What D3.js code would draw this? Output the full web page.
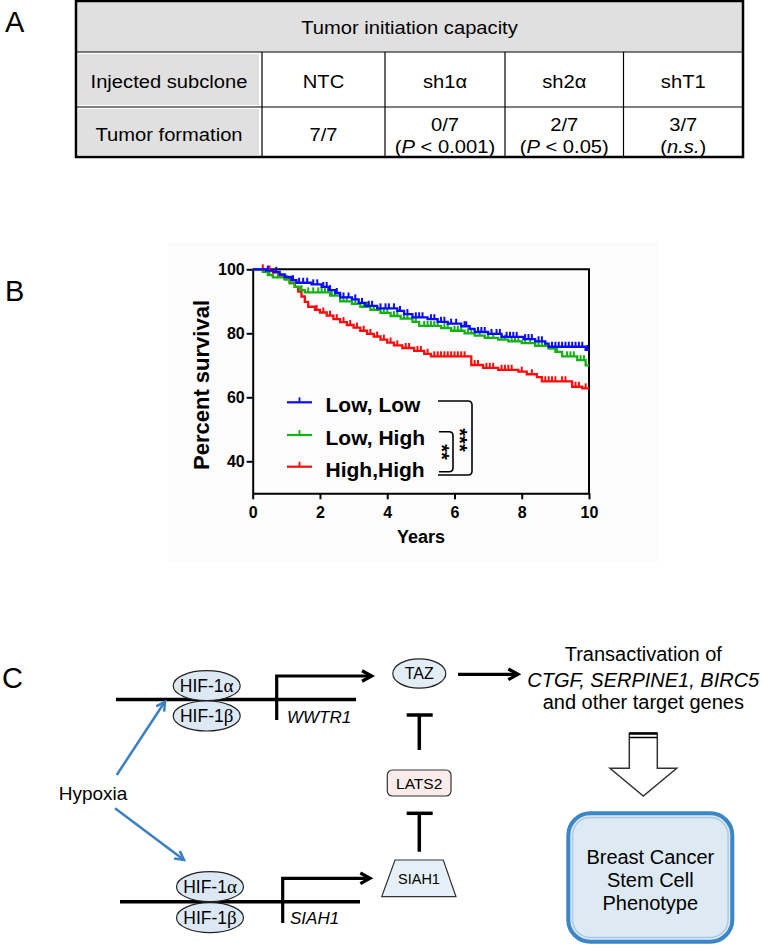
<!DOCTYPE html>
<html><head><meta charset="utf-8">
<script src="https://cdn.jsdelivr.net/npm/d3@7"></script>
<style>body{margin:0;background:#fff}svg{display:block}text{font-family:"Liberation Sans",Arial,sans-serif;fill:#000}</style>
</head><body>
<svg id="fig" width="763" height="951"></svg>
<script>
// ---------- Panel A data ----------
const tableTitle = "Tumor initiation capacity";
const rowLabels = ["Injected subclone", "Tumor formation"];
const subclones = ["NTC", "sh1α", "sh2α", "shT1"];
const formationCounts = ["7/7", "0/7", "2/7", "3/7"];
const formationStats = [null, ["(", "P", " < 0.001)"], ["(", "P", " < 0.05)"], ["(", "n.s.", ")"]];

// ---------- Panel B data ----------
const seriesNames = ["Low, Low", "Low, High", "High,High"];
const seriesColors = ["#0a0aff", "#14b014", "#ff0a0a"];
const yTicks = [40, 60, 80, 100];
const xTicks = [0, 2, 4, 6, 8, 10];
const stepsLowLow = [[0,100],[0.4,99.6],[0.62,99.2],[0.8,98.4],[0.95,97.6],[1.15,96.6],[1.3,95.8],[1.75,95.3],[2.05,94.5],[2.25,93.5],[2.45,92.6],[2.6,91.2],[2.95,90.6],[3.15,89.5],[3.35,88.6],[3.7,87.8],[4.3,87.0],[4.5,86.0],[4.75,85.0],[5.2,84.4],[5.5,83.6],[5.8,83.0],[6.2,82.2],[6.45,81.4],[6.6,80.4],[7.0,79.8],[7.4,78.9],[8.05,78.2],[8.4,77.5],[8.7,76.8],[8.8,75.8],[9.9,74.8],[10,74.8]];
const stepsLowHigh = [[0,100],[0.3,99.2],[0.45,98.2],[0.6,97.5],[0.95,96.8],[1.1,95.6],[1.25,94.5],[1.4,93.5],[1.55,92.8],[2.3,91.8],[2.6,90.0],[2.95,89.2],[3.2,88.3],[3.5,87.3],[3.8,86.4],[4.1,85.4],[4.4,84.6],[4.75,83.6],[4.95,82.3],[5.6,81.6],[5.9,80.8],[6.3,80.0],[6.6,79.3],[6.9,78.6],[7.3,78.0],[7.6,77.5],[8.0,76.9],[8.4,76.1],[8.8,75.2],[9.0,74.2],[9.2,72.8],[9.65,71.6],[9.9,70.0],[10,70.0]];
const stepsHighHigh = [[0,100],[0.4,99.6],[0.6,99.0],[0.8,98.0],[0.95,97.0],[1.1,95.8],[1.25,94.5],[1.35,93.0],[1.45,91.5],[1.55,89.8],[1.65,88.3],[1.85,87.3],[2.0,86.5],[2.2,85.5],[2.4,84.4],[2.6,83.5],[2.8,82.6],[3.0,81.8],[3.2,80.8],[3.4,79.8],[3.6,79.0],[3.8,78.0],[4.0,77.1],[4.2,76.2],[4.45,75.4],[4.8,74.5],[5.1,73.6],[5.3,72.8],[6.5,70.1],[6.85,69.2],[7.3,68.6],[7.9,68.0],[8.15,67.2],[8.45,66.3],[8.6,65.0],[9.5,63.3],[9.8,62.8],[10,62.8]];
const censorLowLow = [0.45,0.7,1.2,1.38,1.5,1.62,1.8,1.92,2.1,2.2,2.3,2.5,2.7,2.85,3.05,3.25,3.45,3.55,3.8,3.95,4.05,4.2,4.38,4.6,4.85,4.95,5.05,5.3,5.4,5.6,5.7,5.9,6.05,6.3,6.35,6.7,6.8,6.9,7.1,7.25,7.35,7.55,7.65,7.75,7.85,8.1,8.2,8.3,8.5,8.6,8.9,9.0,9.1,9.2,9.3,9.4,9.5,9.6,9.7,9.8,9.95];
const censorLowHigh = [0.5,0.75,1.0,1.45,1.65,1.8,1.95,2.05,2.15,2.35,2.45,2.7,2.8,3.05,3.3,3.4,3.6,3.7,3.9,4.0,4.2,4.3,4.5,4.6,4.85,5.1,5.2,5.3,5.4,5.5,5.7,5.8,6.0,6.1,6.2,6.4,6.5,6.75,7.0,7.15,7.4,7.5,7.7,7.8,7.9,8.1,8.25,8.5,8.6,8.7,8.9,9.05,9.35,9.45,9.55,9.75,9.85];
const censorHighHigh = [0.3,0.5,0.7,1.9,2.1,2.3,2.5,2.7,2.9,3.1,3.3,3.5,3.7,3.9,4.1,4.3,4.55,4.65,4.9,5.0,5.2,5.4,5.5,5.6,5.7,5.8,5.9,6.0,6.1,6.2,6.3,6.6,6.7,6.95,7.05,7.15,7.4,7.5,7.6,7.7,8.0,8.3,8.7,8.8,8.9,9.0,9.2,9.3,9.6,9.7,9.9];

// ---------- Panel C text ----------
const targetLines = ["Transactivation of", "CTGF, SERPINE1, BIRC5", "and other target genes"];
const phenotypeLines = ["Breast Cancer", "Stem Cell", "Phenotype"];

const svg = d3.select("#fig");
const FONT = '"Liberation Sans",Arial,sans-serif';

// panel letters
[["A",5,32],["B",5,301],["C",2,688]].forEach(([t,x,y]) =>
  svg.append("text").attr("x",x).attr("y",y).attr("font-size",29).text(t));

// =============== PANEL A ===============
(function(){
  const L=76, R=743, T=1, rows=[1,52,107,157];
  const colX=[L,262,385,505,623.5,R];
  const g = svg.append("g");
  g.append("rect").attr("x",L).attr("y",T).attr("width",R-L).attr("height",rows[1]-T).attr("fill","#e0e0e0");
  g.append("rect").attr("x",L+2).attr("y",rows[1]+2).attr("width",colX[1]-L-5).attr("height",rows[2]-rows[1]-4).attr("fill","#e0e0e0");
  g.append("rect").attr("x",L+2).attr("y",rows[2]+2).attr("width",colX[1]-L-5).attr("height",rows[3]-rows[2]-4).attr("fill","#e0e0e0");
  [rows[1],rows[2]].forEach(y=>g.append("line").attr("x1",L).attr("x2",R).attr("y1",y).attr("y2",y).attr("stroke","#000").attr("stroke-width",1.2));
  colX.slice(1,5).forEach(x=>g.append("line").attr("x1",x).attr("x2",x).attr("y1",rows[1]).attr("y2",rows[3]).attr("stroke","#000").attr("stroke-width",1.2));
  g.append("rect").attr("x",L).attr("y",T).attr("width",R-L).attr("height",rows[3]-T).attr("fill","none").attr("stroke","#000").attr("stroke-width",2.5);
  const txt=(cx,y)=>g.append("text").attr("transform",`translate(${cx},${y}) scale(1.09,1)`).attr("text-anchor","middle").attr("font-size",18.5);
  txt((L+R)/2,34).text(tableTitle);
  txt((colX[0]+colX[1])/2,88).text(rowLabels[0]);
  txt((colX[0]+colX[1])/2,141).text(rowLabels[1]);
  subclones.forEach((s,i)=>{
    const cx=(colX[i+1]+colX[i+2])/2;
    txt(cx,88).text(s);
    if(formationStats[i]){
      txt(cx,131).text(formationCounts[i]);
      const t=txt(cx,153);
      formationStats[i].forEach((p,j)=>t.append("tspan").attr("font-style",j===1?"italic":"normal").text(p));
    } else {
      txt(cx,141).text(formationCounts[i]);
    }
  });
})();

// =============== PANEL B ===============
(function(){
  svg.append("rect").attr("x",168).attr("y",242).attr("width",490).attr("height",320).attr("fill","#fcfcfc");
  const x = d3.scaleLinear().domain([0,10]).range([252.7,589]);
  const y = d3.scaleLinear().domain([30,100]).range([493.3,269.3]);
  const g = svg.append("g");
  g.append("path").attr("d",`M${x(0)},${y(100)}H${x(10)}V${y(30)}`).attr("fill","none").attr("stroke","#000").attr("stroke-width",2);
  const ya = g.append("g").attr("transform",`translate(${x(0)},0)`)
    .call(d3.axisLeft(y).tickValues(yTicks).tickSize(6).tickSizeOuter(0).tickPadding(2));
  const xa = g.append("g").attr("transform",`translate(0,${y(30)})`)
    .call(d3.axisBottom(x).tickValues(xTicks).tickSize(6).tickSizeOuter(0).tickPadding(7));
  [ya,xa].forEach(a=>{
    a.select(".domain").attr("stroke","#000").attr("stroke-width",2);
    a.selectAll(".tick line").attr("stroke","#000").attr("stroke-width",2);
    a.selectAll("text").attr("font-family",FONT).attr("font-weight","bold").attr("font-size",16).attr("fill","#000");
  });
  g.append("text").attr("transform",`translate(209,385) rotate(-90)`).attr("text-anchor","middle")
    .attr("font-size",22).attr("font-weight","bold").text("Percent survival");
  g.append("text").attr("x",421).attr("y",543).attr("text-anchor","middle").attr("font-size",18).attr("font-weight","bold").text("Years");

  const steps=[stepsLowLow,stepsLowHigh,stepsHighHigh];
  const cens=[censorLowLow,censorLowHigh,censorHighHigh];
  const line=d3.line().x(d=>x(d[0])).y(d=>y(d[1])).curve(d3.curveStepAfter);
  const bis=d3.bisector(d=>d[0]).right;
  [2,1,0].forEach(i=>{
    const sg=g.append("g");
    sg.append("path").attr("d",line(steps[i])).attr("fill","none").attr("stroke",seriesColors[i]).attr("stroke-width",2.3);
    sg.selectAll("line.c").data(cens[i]).join("line")
      .attr("x1",t=>x(t)).attr("x2",t=>x(t))
      .attr("y1",t=>y(steps[i][bis(steps[i],t)-1][1]))
      .attr("y2",t=>y(steps[i][bis(steps[i],t)-1][1])-5)
      .attr("stroke",seriesColors[i]).attr("stroke-width",2);
  });
  const ly=[402.3,435,466.7];
  seriesNames.forEach((n,i)=>{
    g.append("line").attr("x1",287).attr("x2",312).attr("y1",ly[i]).attr("y2",ly[i]).attr("stroke",seriesColors[i]).attr("stroke-width",2.2);
    g.append("line").attr("x1",299.5).attr("x2",299.5).attr("y1",ly[i]).attr("y2",ly[i]-5).attr("stroke",seriesColors[i]).attr("stroke-width",1.8);
    g.append("text").attr("x",325.5).attr("y",ly[i]+10).attr("font-size",21).attr("font-weight","bold").text(n);
  });
  const br=(x0,x1,y0,y1)=>g.append("path").attr("d",`M${x0},${y0}H${x1-4}Q${x1},${y0} ${x1},${y0+4}V${y1-4}Q${x1},${y1} ${x1-4},${y1}H${x0}`)
     .attr("fill","none").attr("stroke","#000").attr("stroke-width",1.6);
  br(438,472,401,475);
  br(439,453,431.7,471.7);
  const fs=20;
  g.append("text").attr("transform",`translate(${464-0.55*fs},440) rotate(90)`).attr("text-anchor","middle").attr("font-size",fs).attr("font-weight","bold").text("***");
  g.append("text").attr("transform",`translate(${446-0.55*fs},452) rotate(90)`).attr("text-anchor","middle").attr("font-size",fs).attr("font-weight","bold").text("**");
})();

// =============== PANEL C ===============
(function(){
  const g=svg.append("g");
  const blk="#000";
  function vhead(x1,y1,x2,y2,len,col,w){
    const a=Math.atan2(y2-y1,x2-x1), s=0.5;
    g.append("path").attr("d",`M${x2-len*Math.cos(a-s)},${y2-len*Math.sin(a-s)}L${x2},${y2}L${x2-len*Math.cos(a+s)},${y2-len*Math.sin(a+s)}`)
      .attr("fill","none").attr("stroke",col).attr("stroke-width",w).attr("stroke-linejoin","miter");
  }
  function hif(cx,cy1,cy2){
    [[cy1,"α"],[cy2,"β"]].forEach(([cy,gr])=>{
      g.append("ellipse").attr("cx",cx).attr("cy",cy).attr("rx",33.5).attr("ry",15).attr("fill","#dce8f4").attr("stroke","#222").attr("stroke-width",1.2);
      const t=g.append("text").attr("x",cx).attr("y",cy+6).attr("text-anchor","middle").attr("font-size",17.5);
      t.append("tspan").text("HIF-1");
      t.append("tspan").attr("font-family",'"Liberation Serif",serif').attr("font-size",19).text(gr);
    });
  }
  g.append("line").attr("x1",116).attr("x2",356).attr("y1",699.5).attr("y2",699.5).attr("stroke",blk).attr("stroke-width",3.5);
  g.append("line").attr("x1",120).attr("x2",360).attr("y1",901.7).attr("y2",901.7).attr("stroke",blk).attr("stroke-width",3.5);
  hif(206.7,685.7,716);
  hif(210,886.7,917.7);
  g.append("path").attr("d","M276.7,720V676H370").attr("fill","none").attr("stroke",blk).attr("stroke-width",3.2);
  vhead(276.7,676,371.7,676,11,blk,3.2);
  g.append("path").attr("d","M282.7,923V878.3H368").attr("fill","none").attr("stroke",blk).attr("stroke-width",3.2);
  vhead(282.7,878.3,370,878.3,11,blk,3.2);
  g.append("text").attr("x",287).attr("y",723).attr("font-size",17).attr("font-style","italic").text("WWTR1");
  g.append("text").attr("x",290).attr("y",924).attr("font-size",17).attr("font-style","italic").text("SIAH1");
  g.append("text").attr("x",93).attr("y",800).attr("text-anchor","middle").attr("font-size",19).text("Hypoxia");
  const blue="#3b7fc4";
  g.append("line").attr("x1",116.7).attr("y1",775).attr("x2",164).attr("y2",703).attr("stroke",blue).attr("stroke-width",2.5);
  vhead(116.7,775,165,701.7,10,blue,2.5);
  g.append("line").attr("x1",115).attr("y1",808.3).attr("x2",183).attr("y2",859.3).attr("stroke",blue).attr("stroke-width",2.5);
  vhead(115,808.3,184,860,10,blue,2.5);
  g.append("ellipse").attr("cx",419.3).attr("cy",673.5).attr("rx",26.5).attr("ry",14.7).attr("fill","#e2edf6").attr("stroke","#222").attr("stroke-width",1.2);
  g.append("text").attr("x",419.3).attr("y",679).attr("text-anchor","middle").attr("font-size",16).text("TAZ");
  g.append("line").attr("x1",458).attr("x2",516).attr("y1",674.3).attr("y2",674.3).attr("stroke",blk).attr("stroke-width",3.2);
  vhead(458,674.3,518,674.3,11,blk,3.2);
  [[715,750],[813.3,851.7]].forEach(([a,b])=>{
    g.append("line").attr("x1",406.7).attr("x2",432.7).attr("y1",a).attr("y2",a).attr("stroke",blk).attr("stroke-width",3.5);
    g.append("line").attr("x1",419.3).attr("x2",419.3).attr("y1",a).attr("y2",b).attr("stroke",blk).attr("stroke-width",3.5);
  });
  g.append("rect").attr("x",387.3).attr("y",770).attr("width",63.7).attr("height",26).attr("rx",5).attr("fill","#fbecec").attr("stroke","#333").attr("stroke-width",1.2);
  g.append("text").attr("x",419.2).attr("y",788.5).attr("text-anchor","middle").attr("font-size",15.5).text("LATS2");
  g.append("path").attr("d","M395,860H443.3L456,896.7H381.7Z").attr("fill","#e6f0f8").attr("stroke","#333").attr("stroke-width",1.2);
  g.append("text").attr("x",419).attr("y",884).attr("text-anchor","middle").attr("font-size",14.5).text("SIAH1");
  targetLines.forEach((t,i)=>g.append("text").attr("x",643.3).attr("y",[660.5,686.5,708.5][i]).attr("text-anchor","middle").attr("font-size",20)
     .attr("font-style",i===1?"italic":"normal").text(t));
  g.append("path").attr("d","M629.3,733.3H657.3V768.3H676.7L643.3,796L610,768.3H629.3Z").attr("fill","#fff").attr("stroke","#333").attr("stroke-width",1.5);
  g.append("line").attr("x1",629.3).attr("x2",657.3).attr("y1",733.5).attr("y2",733.5).attr("stroke",blk).attr("stroke-width",2.5);
  g.append("line").attr("x1",629.3).attr("x2",657.3).attr("y1",737.5).attr("y2",737.5).attr("stroke",blk).attr("stroke-width",1.5);
  g.append("rect").attr("x",568.3).attr("y",813.3).attr("width",164).attr("height",128.4).attr("rx",22).attr("fill","#dde9f3").attr("stroke","#3a86c6").attr("stroke-width",4);
  g.append("rect").attr("x",572.5).attr("y",817.5).attr("width",155.6).attr("height",120).attr("rx",18).attr("fill","none").attr("stroke","#a9cbe7").attr("stroke-width",1.5);
  phenotypeLines.forEach((t,i)=>g.append("text").attr("x",650.3).attr("y",[863.7,887,910.3][i]).attr("text-anchor","middle").attr("font-size",20).text(t));
})();
</script>
</body></html>
